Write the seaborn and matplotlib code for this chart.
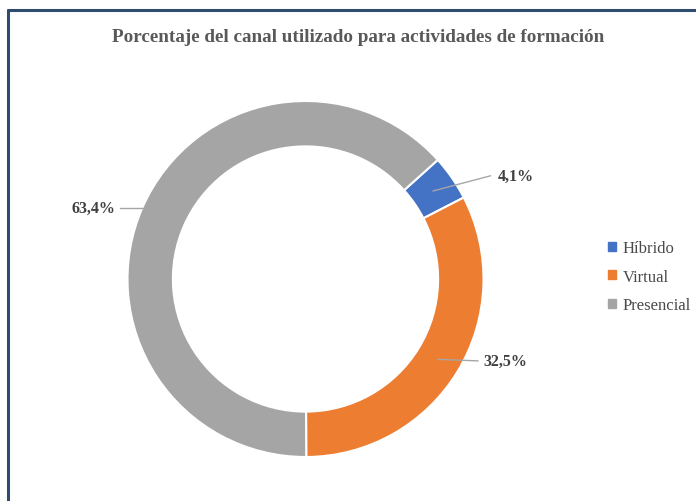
import numpy as np
import matplotlib
matplotlib.use("Agg")
import matplotlib.pyplot as plt
import seaborn as sns

categories = ["Híbrido", "Virtual", "Presencial"]
values = [4.1, 32.5, 63.4]
labels = ["4,1%", "32,5%", "63,4%"]
colors = ["#4472C4", "#ED7D31", "#A5A5A5"]
title = "Porcentaje del canal utilizado para actividades de formación"

sns.set_theme(style="white")
plt.rcParams['font.family'] = ['Liberation Serif', 'DejaVu Serif']

W, H = 696, 502
fig = plt.figure(figsize=(W / 100, H / 100), dpi=100)
fig.patch.set_facecolor("white")

# border (top and left visible, dark blue)
fig.add_artist(plt.Line2D([8 / W, 1], [1 - 11 / H, 1 - 11 / H], color="#2F4B6E", lw=2.2))
fig.add_artist(plt.Line2D([8 / W, 8 / W], [0, 1 - 11 / H], color="#2F4B6E", lw=2.2))

cx, cy, R = 305.5, 280, 178
ax = fig.add_axes([(cx - R) / W, (H - cy - R) / H, 2 * R / W, 2 * R / H])
ax.axis("off")

wedges, _ = ax.pie(values, colors=colors, startangle=42, counterclock=False,
                   radius=1, wedgeprops=dict(width=0.255, edgecolor="white", linewidth=1.5))
ax.set_xlim(-1, 1)
ax.set_ylim(-1, 1)
ax.set_aspect("equal")

fig.text(358 / W, 1 - 37 / H, title, ha="center", va="center", fontsize=13.8,
         fontweight="bold", color="#595959")

# data labels with leader lines
label_pos = [(1.08, 0.58), (1.0, -0.46), (-1.07, 0.40)]
line_end = [(1.04, 0.58), (0.97, -0.46), (-1.04, 0.40)]
ha = ["left", "left", "right"]
for w, lab, tp, le, h in zip(wedges, labels, label_pos, line_end, ha):
    ang = np.deg2rad((w.theta1 + w.theta2) / 2)
    r = 0.87
    px, py = r * np.cos(ang), r * np.sin(ang)
    if h == "right":
        px, py = -0.915, 0.40
    ax.plot([px, le[0]], [py, le[1]], color="#A6A6A6", lw=1, clip_on=False)
    ax.text(tp[0], tp[1], lab, ha=h, va="center", fontsize=11.5, fontweight="bold",
            color="#404040", clip_on=False)

handles = [plt.Rectangle((0, 0), 1, 1, color=c) for c in colors]
fig.legend(handles, categories, loc="upper left", bbox_to_anchor=(593 / W, 1 - 226 / H),
           frameon=False, fontsize=12, handlelength=0.45, handleheight=0.45,
           handletextpad=0.45, labelspacing=0.75, labelcolor="#4a4a4a")

fig.savefig("out.png", dpi=100, facecolor="white")
